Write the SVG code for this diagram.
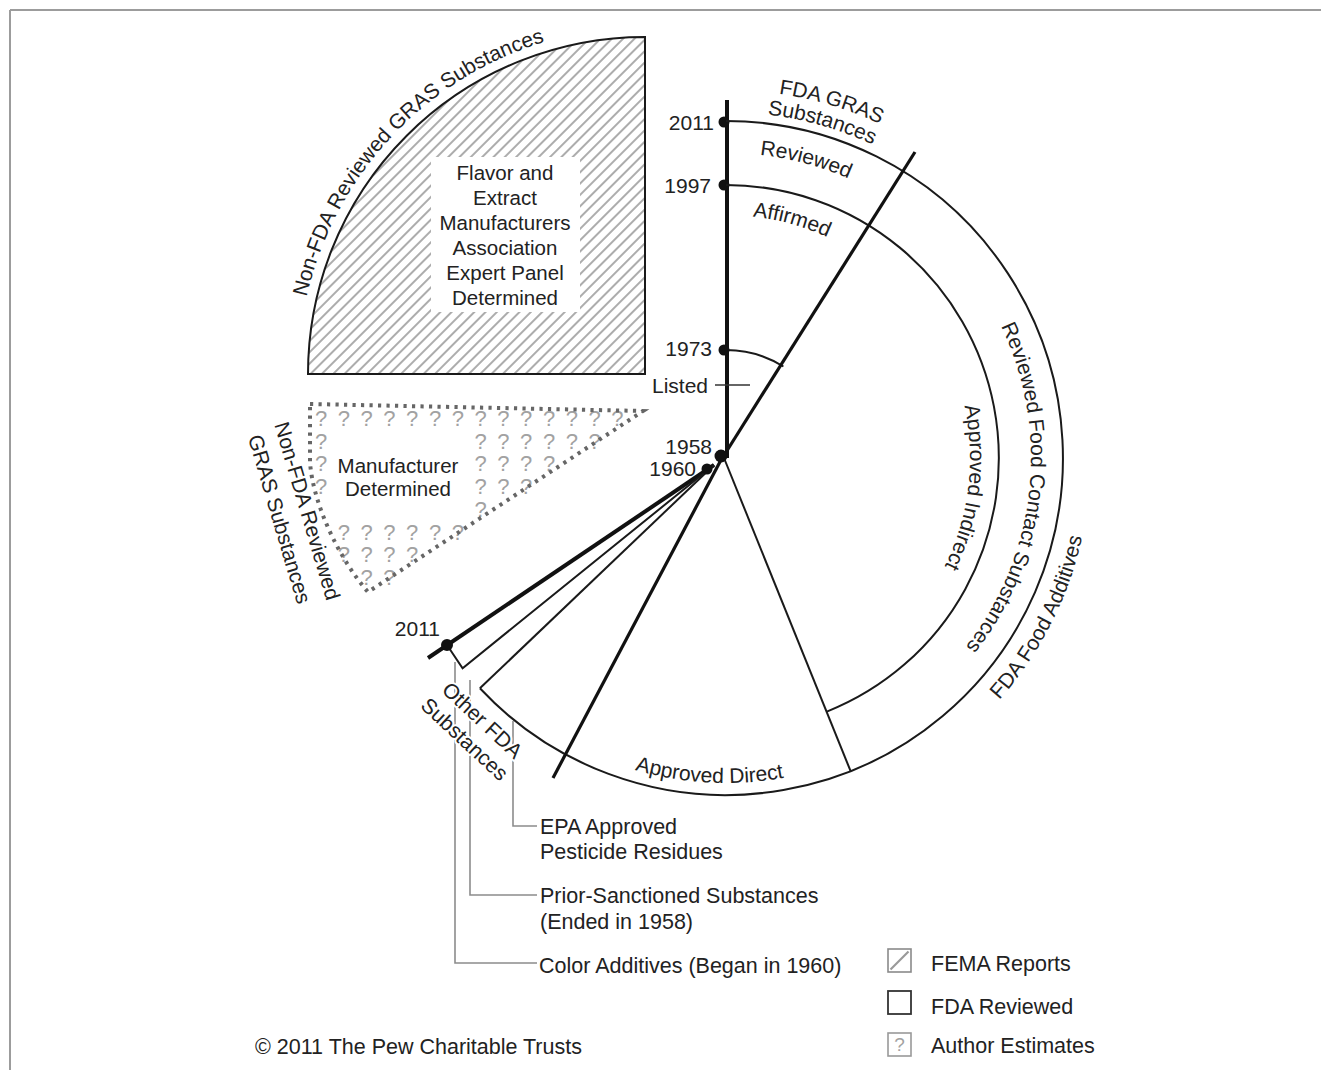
<svg xmlns="http://www.w3.org/2000/svg" width="1321" height="1070" viewBox="0 0 1321 1070">
<style>
.t{font-family:"Liberation Sans",Arial,Helvetica,sans-serif;font-size:21px;fill:#222}
.s{font-size:20.5px}
.b{font-size:21.5px}
.m{text-anchor:middle}
.e{text-anchor:end}
.q{font-family:"Liberation Sans",Arial,sans-serif;font-size:22px;fill:#a2a2a2;text-anchor:middle}
.ln{fill:none;stroke:#1a1a1a;stroke-width:2}
.thk{fill:none;stroke:#111;stroke-width:4}
.thk3{fill:none;stroke:#111;stroke-width:3.2}
.lead{fill:none;stroke:#8c8c8c;stroke-width:1.6}
.dot{fill:#111}
.halo{stroke:#fff;stroke-width:4;paint-order:stroke;stroke-linejoin:round}
</style>
<defs>
<pattern id="hatch" patternUnits="userSpaceOnUse" width="8" height="8" patternTransform="rotate(45)">
<line x1="4" y1="-1" x2="4" y2="9" stroke="#808080" stroke-width="1.3"/>
</pattern>
<path id="pReviewed" d="M 647.1 163.4 A 305 305 0 0 1 941.7 242.3"/>
<path id="pAffirmed" d="M 665.2 222.8 A 243 243 0 0 1 899.3 287.7"/>
<path id="pRFCS" d="M 946.5 247.3 A 305 305 0 0 1 895.2 711.8"/>
<path id="pIndirect" d="M 930.6 325.1 A 244 244 0 0 1 892.4 636.5"/>
<path id="pDirect" d="M 504.4 695.7 A 325 325 0 0 0 921.6 717.5"/>
<path id="pFFA" d="M 868.5 794.0 A 365 365 0 0 0 1081.6 376.0"/>
<path id="pSub" d="M 642.3 122.3 A 346 346 0 0 1 974.9 217.6"/>
<path id="pGras" d="M 640.1 100.2 A 368 368 0 0 1 992.9 204.7"/>
<path id="pNonFDA" d="M 298.2 386.1 A 347 347 0 0 1 632.9 27.2"/>
</defs>

<rect x="0" y="0" width="1321" height="1070" fill="#fff"/>
<g id="frame">
<line x1="10" y1="10" x2="1321" y2="10" stroke="#9c9c9c" stroke-width="2"/>
<line x1="10" y1="10" x2="10" y2="1070" stroke="#9c9c9c" stroke-width="2"/>
</g>

<g id="fema-quadrant">
<path d="M 308 374 A 337 337 0 0 1 645 37 L 645 374 Z" fill="url(#hatch)" stroke="#1a1a1a" stroke-width="2"/>
<rect x="431" y="157" width="149" height="155" fill="#fff"/>
<text class="t s m" x="505"><tspan x="505" y="180">Flavor and</tspan><tspan x="505" y="205">Extract</tspan><tspan x="505" y="230">Manufacturers</tspan><tspan x="505" y="255">Association</tspan><tspan x="505" y="280">Expert Panel</tspan><tspan x="505" y="304.5">Determined</tspan></text>
<text class="t"><textPath href="#pNonFDA" startOffset="50%" text-anchor="middle">Non-FDA Reviewed GRAS Substances</textPath></text>
</g>

<g id="manufacturer-triangle">
<text class="q" x="321 343.8 366.6 389.4 412.2 435 457.8 480.6 503.4 526.2 549 571.8 594.6 617.4" y="426">??????????????</text>
<text class="q" x="321 480.6 503.4 526.2 549 571.8 594.6" y="448.7">???????</text>
<text class="q" x="321 480.6 503.4 526.2 549" y="471.4">?????</text>
<text class="q" x="321 480.6 503.4 526.2" y="494.1">????</text>
<text class="q" x="480.6" y="516.8">?</text>
<text class="q" x="343.8 366.6 389.4 412.2 435 457.8" y="539.5">??????</text>
<text class="q" x="343.8 366.6 389.4 412.2" y="562.2">????</text>
<text class="q" x="366.6 389.4" y="584.9">??</text>
<path d="M 310 404 L 643 411 L 368 592 C 340 560 313 505 310 462 Z" fill="none" stroke="#666" stroke-width="4" stroke-dasharray="3.2 5.3"/>
<text class="t s m"><tspan x="398" y="472.5">Manufacturer</tspan><tspan x="398" y="495.5">Determined</tspan></text>
<g transform="translate(293.7,515) rotate(73.5)">
<text class="t m"><tspan x="0" y="-7">Non-FDA Reviewed</tspan><tspan x="0" y="22">GRAS Substances</tspan></text>
</g>
</g>

<g id="fda-gras">
<path class="thk" d="M 727 100 V 458"/>
<path class="ln" d="M 726 350 A 108 108 0 0 1 783.4 366.5"/>
<line x1="715" y1="385" x2="750" y2="385" stroke="#333" stroke-width="1.5"/>
<circle class="dot" cx="724" cy="122" r="5.5"/>
<circle class="dot" cx="724" cy="185" r="5.5"/>
<circle class="dot" cx="724" cy="350" r="5.5"/>
<text class="t e" x="714" y="129.5">2011</text>
<text class="t e" x="711" y="192.5">1997</text>
<text class="t e" x="712" y="356">1973</text>
<text class="t e" x="708" y="392.5">Listed</text>
<text class="t"><textPath href="#pGras" startOffset="50%" text-anchor="middle">FDA GRAS</textPath></text>
<text class="t"><textPath href="#pSub" startOffset="50%" text-anchor="middle">Substances</textPath></text>
<text class="t"><textPath href="#pReviewed" startOffset="50%" text-anchor="middle">Reviewed</textPath></text>
<text class="t"><textPath href="#pAffirmed" startOffset="50%" text-anchor="middle">Affirmed</textPath></text>
</g>

<g id="fda-food-additives">
<path class="ln" d="M 726 121 A 337 337 0 1 1 479.9 688.3"/>
<path class="ln" d="M 726 185 A 273 273 0 0 1 826.9 711.6"/>
<path class="thk3" d="M 723 457 L 915 152"/>
<path class="thk3" d="M 722 458 L 553 778"/>
<path class="ln" d="M 724 458 L 850.6 771.1"/>
<text class="t"><textPath href="#pRFCS" startOffset="50%" text-anchor="middle">Reviewed Food Contact Substances</textPath></text>
<text class="t"><textPath href="#pIndirect" startOffset="50%" text-anchor="middle">Approved Indirect</textPath></text>
<text class="t"><textPath href="#pDirect" startOffset="50%" text-anchor="middle">Approved Direct</textPath></text>
<text class="t"><textPath href="#pFFA" startOffset="50%" text-anchor="middle">FDA Food Additives</textPath></text>
</g>

<g id="other-fda-substances">
<path class="thk" d="M 428 658 L 714 465"/>
<path class="ln" d="M 447 645 L 462.6 668.2 L 714 465"/>
<path class="ln" d="M 479.9 688.3 L 714 465"/>
<circle class="dot" cx="447" cy="645" r="6"/>
<circle class="dot" cx="707" cy="469" r="5.5"/>
<circle class="dot" cx="721" cy="456" r="6.5"/>
<text class="t e" x="712" y="454">1958</text>
<text class="t e" x="696" y="475.5">1960</text>
<text class="t e" x="440" y="636">2011</text>
</g>

<g id="connectors">
<path class="lead" d="M 455 662 V 963 H 537"/>
<path class="lead" d="M 470 680 V 895 H 537"/>
<path class="lead" d="M 513 721 V 826 H 537"/>
</g>

<g id="other-fda-label" transform="translate(473.7,729.5) rotate(43)">
<text class="t m halo"><tspan x="0" y="-5.5">Other FDA</tspan><tspan x="0" y="20.5">Substances</tspan></text>
</g>

<g id="leader-labels">
<text class="t b"><tspan x="540" y="834">EPA Approved</tspan><tspan x="540" y="859">Pesticide Residues</tspan></text>
<text class="t b"><tspan x="540" y="902.5">Prior-Sanctioned Substances</tspan><tspan x="540" y="929">(Ended in 1958)</tspan></text>
<text class="t b" x="539" y="973">Color Additives (Began in 1960)</text>
</g>

<g id="legend">
<rect x="888" y="949" width="23" height="23" fill="#fff" stroke="#8a8a8a" stroke-width="1.6"/>
<line x1="890.5" y1="969.5" x2="908.5" y2="951.5" stroke="#999" stroke-width="2.2"/>
<text class="t b" x="931" y="971">FEMA Reports</text>
<rect x="888" y="991" width="23" height="23" fill="#fff" stroke="#333" stroke-width="1.8"/>
<text class="t b" x="931" y="1014">FDA Reviewed</text>
<rect x="888" y="1033" width="23" height="23" fill="#fff" stroke="#999" stroke-width="1.6"/>
<text class="q" x="899.5" y="1051" style="font-size:19px">?</text>
<text class="t b" x="931" y="1052.5">Author Estimates</text>
</g>

<g id="credit">
<text class="t b" x="255" y="1054">© 2011 The Pew Charitable Trusts</text>
</g>
</svg>
